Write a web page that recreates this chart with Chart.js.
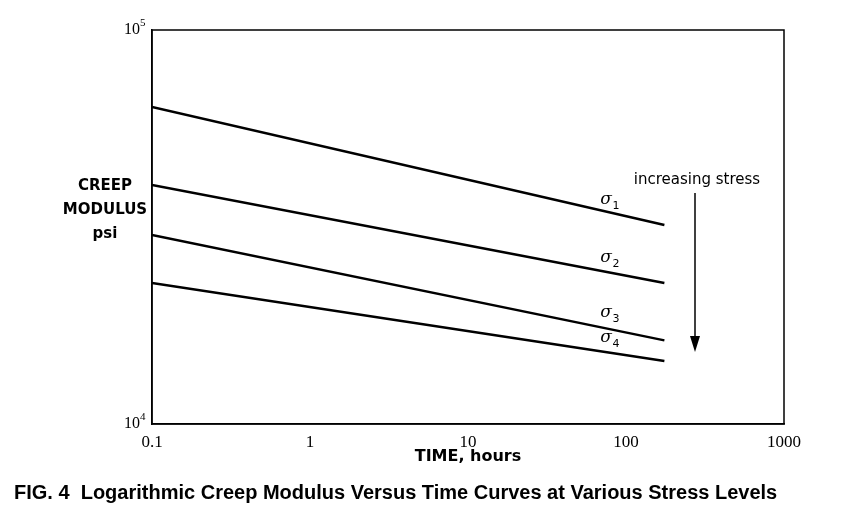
<!DOCTYPE html>
<html><head><meta charset="utf-8">
<script src="https://cdn.jsdelivr.net/npm/chart.js@4"></script>
<style>body{margin:0;background:#fff}#wrap{width:852px;height:514px}</style>
</head><body><div id="wrap"><canvas id="c"></canvas></div>
<script>
const timeHours = [0.1, 175];
const sigma1 = [63800, 32000];
const sigma2 = [40400, 22800];
const sigma3 = [30200, 16300];
const sigma4 = [22800, 14450];
const seriesLabels = ['σ1', 'σ2', 'σ3', 'σ4'];
const xTicks = [0.1, 1, 10, 100, 1000];

const mk = (d, i) => ({
  label: seriesLabels[i],
  data: timeHours.map((t, k) => ({x: t, y: d[k]})),
  borderColor: '#000', borderWidth: 2.5, pointRadius: 0, fill: false
});

const annot = {
  id: 'annot',
  afterDraw(chart) {
    const {ctx, chartArea: a, scales: {x, y}} = chart;
    ctx.save();
    ctx.strokeStyle = '#000'; ctx.lineWidth = 1.5;
    ctx.strokeRect(a.left, a.top, a.right - a.left, a.bottom - a.top);
    ctx.fillStyle = '#000';
    // y tick labels with superscripts
    ctx.textBaseline = 'middle';
    [[1e5, '5'], [1e4, '4']].forEach(([v, e]) => {
      const py = y.getPixelForValue(v);
      ctx.font = '16px "Liberation Serif"'; ctx.textAlign = 'right'; ctx.fillText('10', a.left - 12, py);
      ctx.font = '11px "Liberation Serif"'; ctx.textAlign = 'left'; ctx.fillText(e, a.left - 12, py - 7);
    });
    // y title
    ctx.font = 'bold 15px "DejaVu Sans"'; ctx.textAlign = 'center';
    ctx.fillText('CREEP', 105, 186); ctx.fillText('MODULUS', 105, 210); ctx.fillText('psi', 105, 234);
    // sigma labels
    const sl = [[606, 200, '1'], [606, 258, '2'], [606, 313, '3'], [606, 338, '4']];
    sl.forEach(([px, py, s]) => {
      ctx.font = 'italic 17px "DejaVu Serif"'; ctx.textAlign = 'center'; ctx.fillText('σ', px, py);
      ctx.font = '11px "DejaVu Sans"'; ctx.fillText(s, px + 10, py + 6);
    });
    ctx.font = '15px "DejaVu Sans"'; ctx.fillText('increasing stress', 697, 180);
    // arrow
    ctx.beginPath(); ctx.moveTo(695, 193); ctx.lineTo(695, 340); ctx.stroke();
    ctx.beginPath(); ctx.moveTo(690, 336); ctx.lineTo(695, 352); ctx.lineTo(700, 336); ctx.closePath(); ctx.fill();
    // x title and caption
    ctx.font = 'bold 16px "DejaVu Sans"'; ctx.fillText('TIME, hours', 468, 457);
    ctx.font = 'bold 20px "Liberation Sans"'; ctx.textAlign = 'left';
    ctx.fillText('FIG. 4  Logarithmic Creep Modulus Versus Time Curves at Various Stress Levels', 14, 493, 824);
    ctx.restore();
  }
};

new Chart(document.getElementById('c'), {
  type: 'line',
  data: {datasets: [mk(sigma1, 0), mk(sigma2, 1), mk(sigma3, 2), mk(sigma4, 3)]},
  options: {
    responsive: true, maintainAspectRatio: false, animation: false,
    layout: {padding: {top: 30, right: 68, left: 0, bottom: 0}},
    plugins: {legend: {display: false}, tooltip: {enabled: false}},
    scales: {
      x: {
        type: 'logarithmic', min: 0.1, max: 1000,
        grid: {display: false, drawTicks: true},
        border: {color: '#000', width: 1.5},
        afterBuildTicks: s => { s.ticks = xTicks.map(v => ({value: v})); },
        afterFit: s => { s.height = 90; },
        ticks: {color: '#000', font: {family: 'Liberation Serif', size: 17}, maxRotation: 0, padding: 0,
          callback: v => String(v)}
      },
      y: {
        type: 'logarithmic', min: 1e4, max: 1e5,
        grid: {display: false},
        border: {color: '#000', width: 1.5},
        afterFit: s => { s.width = 152; },
        ticks: {display: false}
      }
    }
  },
  plugins: [annot]
});
</script></body></html>
